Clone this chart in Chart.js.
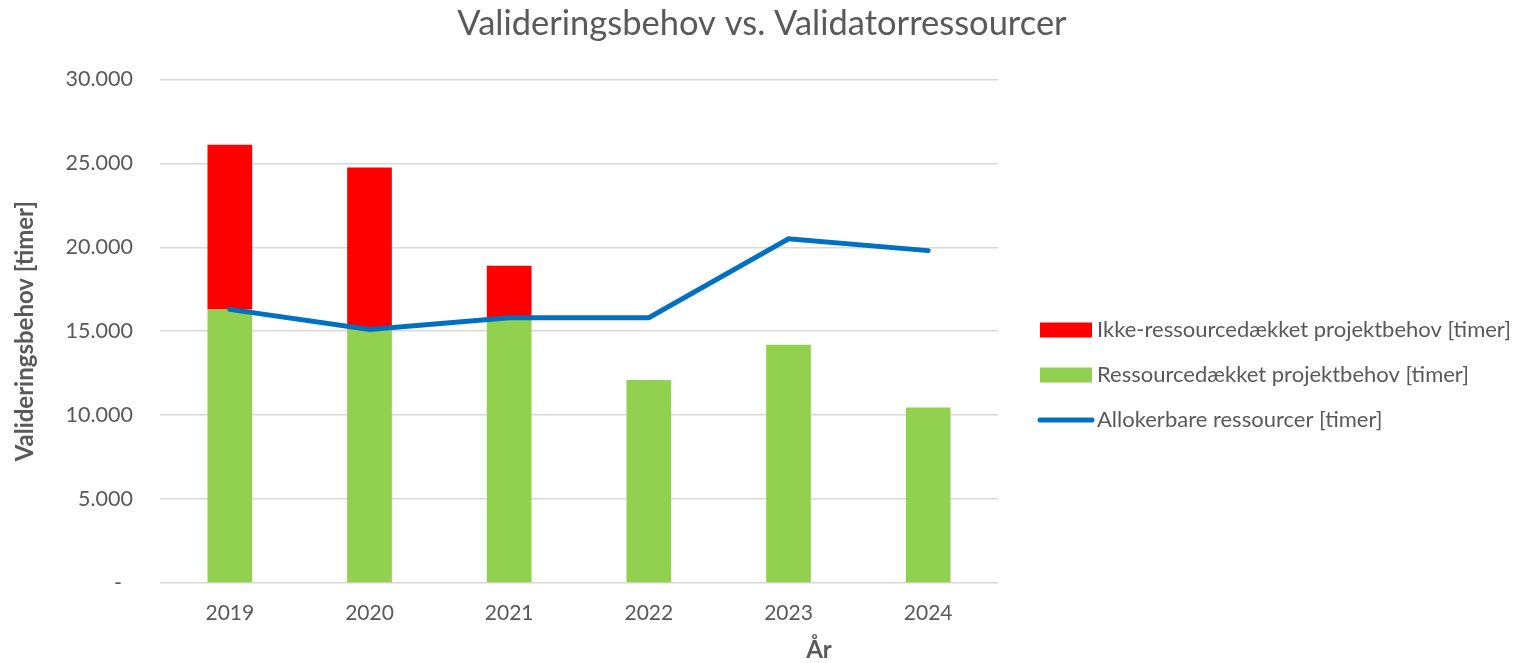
<!DOCTYPE html>
<html>
<head>
<meta charset="utf-8">
<script src="https://cdn.jsdelivr.net/npm/chart.js@4/dist/chart.umd.min.js"></script>
<style>
  body { margin: 0; background: #fff; }
  #wrap { width: 1524px; height: 663px; position: relative; }
</style>
</head>
<body>
<div id="wrap"><canvas id="chart"></canvas></div>
<script>
// Data
const years = ['2019', '2020', '2021', '2022', '2023', '2024'];
const coveredNeed = [16300, 15100, 15800, 12100, 14200, 10450];
const uncoveredNeed = [9800, 9650, 3100, 0, 0, 0];
const allocatable = [16300, 15100, 15800, 15800, 20500, 19800];
const yTicks = [0, 5000, 10000, 15000, 20000, 25000, 30000];

const FONT = 'Lato';
const GREY = '#595959';

// 30000 -> "30.000", 0 -> "-"
function fmt(v) {
    if (v === 0) return '-  ';
    return String(v).replace(/\B(?=(\d{3})+(?!\d))/g, '.');
}

// Legend + x title drawn by hand so they sit where the original has them
const extras = {
    id: 'extras',
    afterDraw(chart) {
        const ctx = chart.ctx;
        const ds = chart.data.datasets;
        const items = [ds[1], ds[0], ds[2]];
        const rows = [330, 375, 420];
        ctx.save();
        ctx.font = `22px ${FONT}`;
        ctx.textBaseline = 'middle';
        ctx.textAlign = 'left';
        items.forEach((d, i) => {
            const y = rows[i];
            if (d.type === 'line') {
                ctx.strokeStyle = d.borderColor;
                ctx.lineWidth = d.borderWidth;
                ctx.lineCap = 'round';
                ctx.beginPath();
                ctx.moveTo(1040, y);
                ctx.lineTo(1092, y);
                ctx.stroke();
            } else {
                ctx.fillStyle = d.backgroundColor;
                ctx.fillRect(1040, y - 7.5, 52, 15);
            }
            ctx.fillStyle = GREY;
            ctx.fillText(d.label, 1097, y);
        });
        ctx.font = `bold 24px ${FONT}`;
        ctx.textAlign = 'center';
        ctx.fillText('År', 819, 650);
        ctx.restore();
    }
};

new Chart(document.getElementById('chart'), {
    type: 'bar',
    data: {
        labels: years,
        datasets: [
            {
                label: 'Ressourcedækket projektbehov [timer]',
                data: coveredNeed,
                backgroundColor: '#92D050',
                order: 1
            },
            {
                label: 'Ikke-ressourcedækket projektbehov [timer]',
                data: uncoveredNeed,
                backgroundColor: '#FF0000',
                order: 2
            },
            {
                type: 'line',
                label: 'Allokerbare ressourcer [timer]',
                data: allocatable,
                borderColor: '#0070C0',
                backgroundColor: '#0070C0',
                borderWidth: 5,
                pointRadius: 0,
                tension: 0,
                borderCapStyle: 'round',
                order: 0
            }
        ]
    },
    options: {
        responsive: true,
        maintainAspectRatio: false,
        animation: false,
        datasets: {
            bar: { categoryPercentage: 1, barPercentage: 0.32 }
        },
        layout: { padding: 0 },
        plugins: {
            legend: { display: false },
            tooltip: { enabled: false },
            title: {
                display: true,
                text: 'Valideringsbehov vs. Validatorressourcer',
                color: GREY,
                font: { family: FONT, size: 34.5, weight: 'normal' },
                padding: { top: 3, bottom: 35 }
            }
        },
        scales: {
            x: {
                stacked: true,
                grid: { display: false, drawTicks: false },
                border: { display: false },
                ticks: { color: GREY, font: { family: FONT, size: 21 }, padding: 18 },
                afterFit(scale) { scale.height = 80; }
            },
            y: {
                stacked: true,
                min: 0,
                max: 30000,
                afterBuildTicks(scale) { scale.ticks = yTicks.map(v => ({ value: v })); },
                grid: { color: '#D9D9D9', lineWidth: 1.5, drawTicks: false },
                border: { display: false },
                ticks: {
                    color: GREY,
                    font: { family: FONT, size: 21.5 },
                    padding: 27,
                    callback: v => fmt(v)
                },
                title: {
                    display: true,
                    text: 'Valideringsbehov [timer]',
                    color: GREY,
                    font: { family: FONT, size: 24, weight: 'bold' },
                    padding: { top: 11, bottom: 0 }
                },
                afterFit(scale) { scale.width = 160; }
            },
            // empty right-hand axis that reserves the room the legend sits in
            legendSpace: {
                position: 'right',
                display: true,
                grid: { display: false },
                border: { display: false },
                ticks: { display: false },
                afterFit(scale) { scale.width = 526; }
            }
        }
    },
    plugins: [extras]
});
</script>
</body>
</html>
